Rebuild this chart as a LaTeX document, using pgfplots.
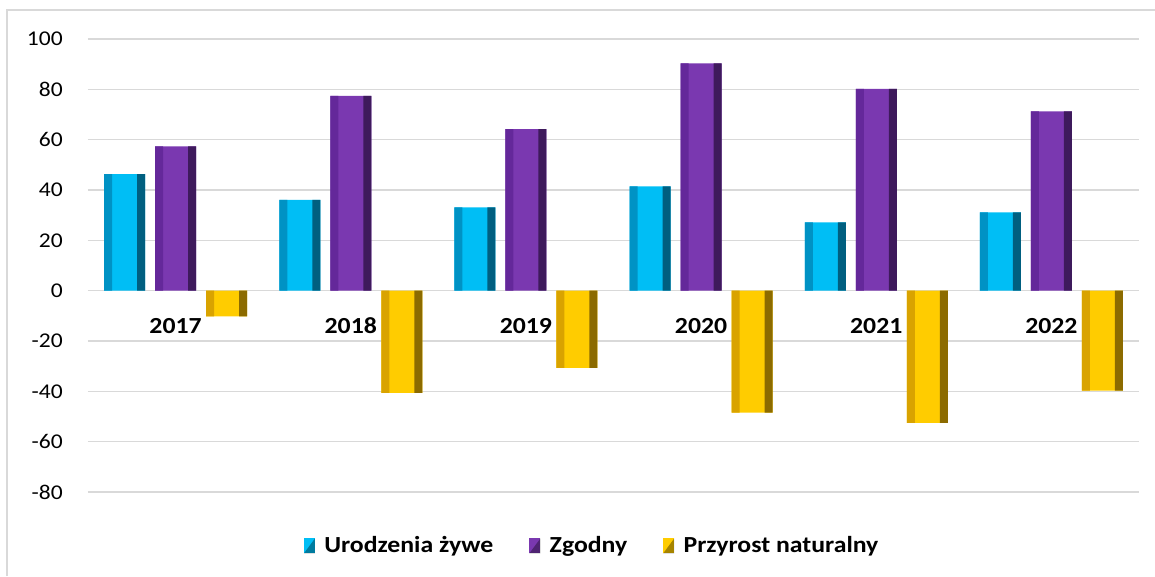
\documentclass[border=0pt]{standalone}
\usepackage{fontspec}
\setmainfont{Carlito}
\usepackage{graphicx}
\usepackage{pgfplots}
\pgfplotsset{compat=1.18}
\usepackage{pgfplotstable}

\definecolor{blueL}{HTML}{0092C4}
\definecolor{blueM}{HTML}{00BEF5}
\definecolor{blueR}{HTML}{005F80}
\definecolor{purpL}{HTML}{64289A}
\definecolor{purpM}{HTML}{7A38B0}
\definecolor{purpR}{HTML}{3E1A5C}
\definecolor{goldL}{HTML}{D9A300}
\definecolor{goldM}{HTML}{FFCC00}
\definecolor{goldR}{HTML}{8C6B00}
\definecolor{gridc}{HTML}{D9D9D9}

% Excel picture is stretched a little horizontally
\newcommand{\sx}[1]{\scalebox{1.12}[1]{#1}}

\pgfplotstableread{
year ur zg pn
0 46.3 57.3 -10.2
1 36.1 77.4 -40.6
2 33.1 64.2 -30.7
3 41.4 90.3 -48.5
4 27.1 80.2 -52.5
5 31.1 71.2 -39.7
}\dane

\pgfplotsset{
  body/.style={draw=none, fill=#1, bar width=30.75pt},
  side/.style={draw=none, fill=#1, bar width=6pt, forget plot},
}

\begin{document}
\fontsize{15.75pt}{18pt}\selectfont
\begin{tikzpicture}
\useasboundingbox (-66pt,-63pt) rectangle (800.25pt,369pt);
\draw[gridc, line width=0.8pt] (-60.75pt,-63pt) -- (-60.75pt,361.5pt) -- (800.25pt,361.5pt);
\begin{axis}[
    at={(0,0)}, anchor=south west,
    scale only axis, width=788.25pt, height=339.75pt,
    xmin=-0.5, xmax=5.5, ymin=-80, ymax=100,
    ybar,
    axis line style={draw=none},
    major tick length=0pt,
    xtick={0,...,5},
    xticklabels={\sx{2017},\sx{2018},\sx{2019},\sx{2020},\sx{2021},\sx{2022}},
    xticklabel style={anchor=center, yshift=124.5pt, inner sep=0pt,
        font=\fontsize{17.25pt}{20pt}\selectfont\bfseries},
    ytick={-80,-60,-40,-20,0,20,40,60,80,100},
    yticklabels={\sx{-80},\sx{-60},\sx{-40},\sx{-20},\sx{0},\sx{20},\sx{40},\sx{60},\sx{80},\sx{100}},
    yticklabel style={anchor=east, inner sep=0pt, xshift=-18.75pt,
        font=\fontsize{15.75pt}{18pt}\selectfont},
    ymajorgrids, grid style={gridc, line width=1.1pt},
    legend columns=3,
    legend style={at={(0.48,-0.119)}, anchor=center, draw=none, fill=none,
        font=\fontsize{17.25pt}{20pt}\selectfont\bfseries, inner sep=0pt,
        /tikz/every even column/.append style={column sep=25pt}},
    legend cell align=left,
    legend image code/.code={
        \fill[#1] (0pt,-5.6pt) rectangle (8.25pt,5.6pt);
        \fill[black, opacity=0.35] (0pt,-5.6pt) -- (8.25pt,5.6pt) -- (8.25pt,-5.6pt) -- cycle;},
]
% Urodzenia zywe
\addplot[body=blueM, bar shift=-38.25pt] table[x=year,y=ur] {\dane};
% Zgodny
\addplot[body=purpM, bar shift=0pt] table[x=year,y=zg] {\dane};
% Przyrost naturalny
\addplot[body=goldM, bar shift=38.25pt] table[x=year,y=pn] {\dane};
\addlegendentry{\hspace{5pt}\sx{Urodzenia żywe}}
\addlegendentry{\hspace{5pt}\sx{Zgodny}}
\addlegendentry{\hspace{5pt}\sx{Przyrost naturalny}}
% bevelled edges of the bars
\addplot[side=blueL, bar shift=-50.625pt] table[x=year,y=ur] {\dane};
\addplot[side=blueR, bar shift=-25.875pt] table[x=year,y=ur] {\dane};
\addplot[side=purpL, bar shift=-12.375pt] table[x=year,y=zg] {\dane};
\addplot[side=purpR, bar shift=12.375pt] table[x=year,y=zg] {\dane};
\addplot[side=goldL, bar shift=25.875pt] table[x=year,y=pn] {\dane};
\addplot[side=goldR, bar shift=50.625pt] table[x=year,y=pn] {\dane};
\end{axis}
\end{tikzpicture}
\end{document}
